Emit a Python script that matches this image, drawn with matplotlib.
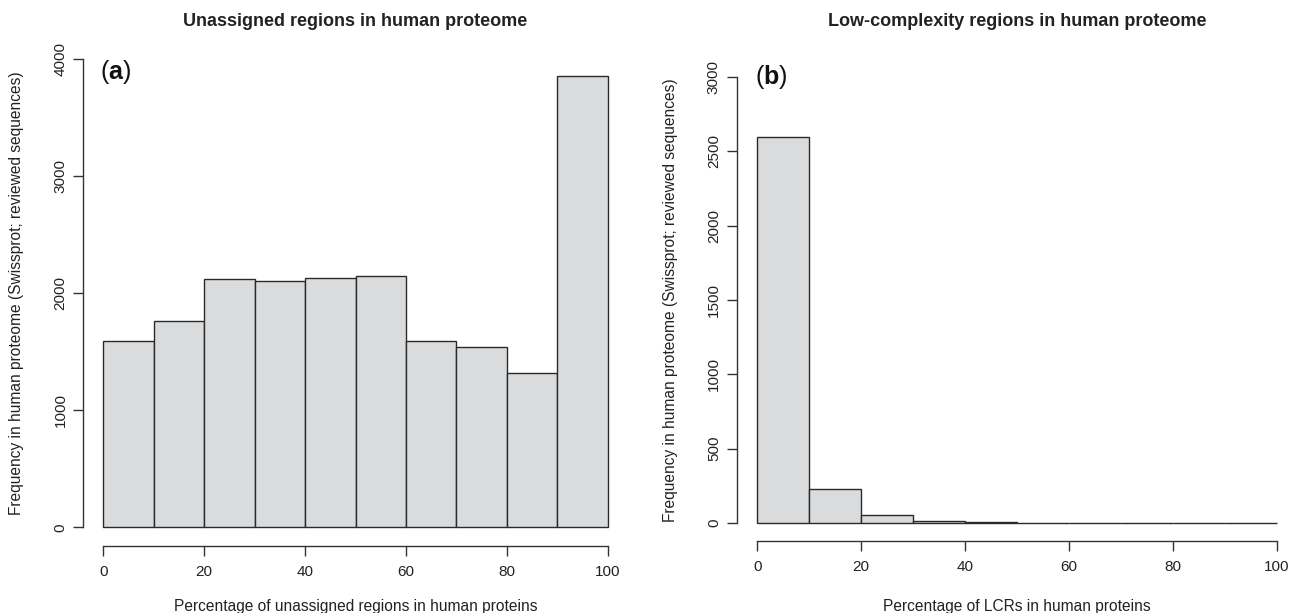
import matplotlib
matplotlib.use('Agg')
import matplotlib.pyplot as plt

# histogram data (counts per 10% bin)
bin_edges = [0, 10, 20, 30, 40, 50, 60, 70, 80, 90, 100]
unassigned_counts = [1590, 1765, 2120, 2100, 2125, 2145, 1590, 1535, 1315, 3855]
lcr_counts = [2595, 230, 53, 15, 7, 3, 3, 1, 2, 2]

x_ticks = [0, 20, 40, 60, 80, 100]
y_ticks_a = [0, 1000, 2000, 3000, 4000]
y_ticks_b = [0, 500, 1000, 1500, 2000, 2500, 3000]

titles = ['Unassigned regions in human proteome', 'Low-complexity regions in human proteome']
xlabels = ['Percentage of unassigned regions in human proteins', 'Percentage of LCRs in human proteins']
ylabel = 'Frequency in human proteome (Swissprot; reviewed sequences)'
panel_tags = ['a', 'b']

plt.rcParams['font.family'] = ['Liberation Sans', 'DejaVu Sans']
plt.rcParams['mathtext.fontset'] = 'custom'
plt.rcParams['mathtext.rm'] = 'Liberation Sans'
plt.rcParams['mathtext.bf'] = 'Liberation Sans:bold'

W, H = 1297, 613
fig = plt.figure(figsize=(W / 100, H / 100), dpi=100)


def px_box(left, top, right, bottom):
    return [left / W, 1 - bottom / H, (right - left) / W, (bottom - top) / H]


boxes = [(83, 40, 628, 546), (736.5, 59, 1297.5, 540.8)]
ylims = [(-160, 4160), (-120, 3120)]
yticks = [y_ticks_a, y_ticks_b]
counts = [unassigned_counts, lcr_counts]
ylabel_x = [17, 670]
tag_pos = [(100, 72), (755, 77)]

fill = '#dadbdd'
edge = '#2a2a2a'
axis_col = '#333333'

for i in range(2):
    ax = fig.add_axes(px_box(*boxes[i]))
    ax.bar(bin_edges[:-1], counts[i], width=10, align='edge',
           color=fill, edgecolor=edge, linewidth=1.0)
    ax.set_xlim(-4, 104)
    ax.set_ylim(*ylims[i])
    for s in ['top', 'right']:
        ax.spines[s].set_visible(False)
    ax.spines['left'].set_bounds(yticks[i][0], yticks[i][-1])
    ax.spines['bottom'].set_bounds(0, 100)
    for s in ['left', 'bottom']:
        ax.spines[s].set_color(axis_col)
        ax.spines[s].set_linewidth(1.0)
    ax.set_xticks(x_ticks)
    ax.set_yticks(yticks[i])
    ax.tick_params(axis='both', length=7.2, width=1.0, color=axis_col,
                   labelsize=11, labelcolor='#222222')
    ax.tick_params(axis='x', pad=6.5)
    ax.tick_params(axis='y', pad=4)
    plt.setp(ax.get_yticklabels(), rotation=90, va='center')

    left, top, right, bottom = boxes[i]
    cx = (left + right) / 2
    cy = (top + bottom) / 2
    fig.text(cx / W, 1 - 21.5 / H, titles[i], ha='center', va='center',
             fontsize=13, fontweight='bold', color='#222222')
    fig.text(cx / W, 1 - 606 / H, xlabels[i], ha='center', va='center',
             fontsize=11.2, color='#222222')
    fig.text(ylabel_x[i] / W, 1 - cy / H, ylabel, ha='center', va='center',
             rotation=90, fontsize=11.2, color='#222222')
    tx, ty = tag_pos[i]
    fig.text(tx / W, 1 - ty / H, '(' + r'$\mathbf{' + panel_tags[i] + '}$' + ')',
             ha='left', va='center', fontsize=18, color='#111111')

fig.savefig('out.png', dpi=100)
